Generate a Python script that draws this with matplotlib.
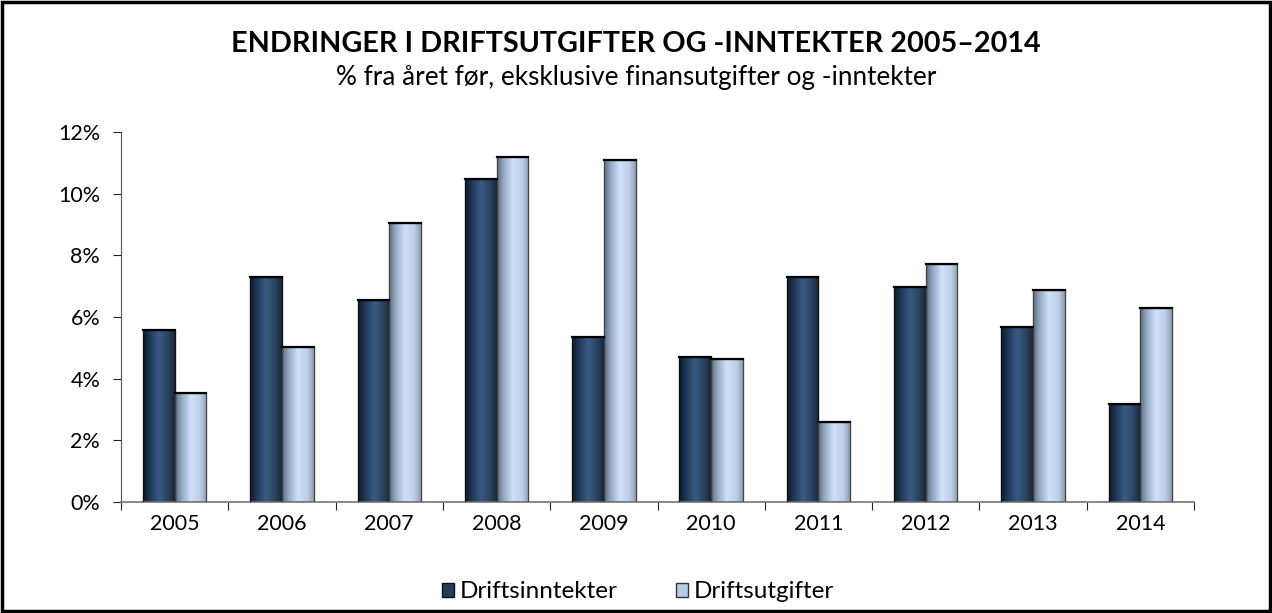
import numpy as np
import matplotlib
matplotlib.use("Agg")
import matplotlib.pyplot as plt
from matplotlib.colors import LinearSegmentedColormap
from matplotlib.patches import Rectangle

years = ["2005", "2006", "2007", "2008", "2009", "2010", "2011", "2012", "2013", "2014"]
inntekter = [5.58, 7.30, 6.55, 10.48, 5.35, 4.70, 7.30, 6.97, 5.68, 3.18]
utgifter = [3.54, 5.03, 9.05, 11.19, 11.09, 4.64, 2.59, 7.72, 6.88, 6.29]
series_names = ["Driftsinntekter", "Driftsutgifter"]
yticks = [0, 2, 4, 6, 8, 10, 12]
title = "ENDRINGER I DRIFTSUTGIFTER OG -INNTEKTER 2005\u20132014"
subtitle = "% fra året før, eksklusive finansutgifter og -inntekter"

plt.rcParams['font.family'] = ['Lato', 'DejaVu Sans']

W, H = 1272, 613
fig = plt.figure(figsize=(W / 100, H / 100), dpi=100)
ax = fig.add_axes([121 / W, (H - 502) / H, (1194 - 121) / W, (502 - 132) / H])

dark_cmap = LinearSegmentedColormap.from_list(
    "dark", [(0, "#0e1826"), (0.25, "#233c5d"), (0.5, "#3a5b84"), (0.8, "#29425f"), (1, "#172538")])
light_cmap = LinearSegmentedColormap.from_list(
    "light", [(0, "#5d6a7c"), (0.2, "#93a7c0"), (0.5, "#d0e2f8"), (0.8, "#bccde6"), (1, "#8c9db4")])

x = np.arange(len(years))
bw = 0.295
off = bw / 2
b1 = ax.bar(x - off, inntekter, width=bw, color="#1f3556", edgecolor="#111111", linewidth=0.8, label=series_names[0], zorder=2)
b2 = ax.bar(x + off, utgifter, width=bw, color="#b8cce4", edgecolor="#444444", linewidth=0.8, label=series_names[1], zorder=2)

grad = np.linspace(0, 1, 256).reshape(1, -1)
for bars, cmap in ((b1, dark_cmap), (b2, light_cmap)):
    for r in bars:
        x0, y0 = r.get_x(), r.get_y()
        w, h = r.get_width(), r.get_height()
        im = ax.imshow(grad, cmap=cmap, extent=(x0, x0 + w, y0, y0 + h),
                       aspect="auto", zorder=2.5, interpolation="bilinear")
        im.set_clip_path(r)
        ax.add_patch(Rectangle((x0, y0), w, h, fill=False, edgecolor=r.get_edgecolor(),
                               linewidth=0.9, zorder=3))
        ax.plot([x0, x0 + w], [y0 + h, y0 + h], color="black", linewidth=1.6, zorder=3.1)

ax.set_xlim(-0.5, len(years) - 0.5)
ax.set_ylim(0, 12)
ax.set_yticks(yticks)
ax.set_yticklabels([f"{v}%" for v in yticks], fontsize=15.5)
ax.set_xticks(np.arange(len(years) + 1) - 0.5)
ax.set_xticklabels([])
ax.set_xticks(x, minor=True)
ax.set_xticklabels(years, minor=True, fontsize=15.5)
ax.tick_params(axis="x", which="minor", length=0, pad=9)
ax.tick_params(axis="x", which="major", length=6, direction="out", color="#222222")
ax.tick_params(axis="y", length=6, direction="out", color="#222222", pad=9)
for s in ("top", "right"):
    ax.spines[s].set_visible(False)
ax.spines["left"].set_color("#555555")
ax.spines["bottom"].set_color("#777777")
ax.spines["bottom"].set_linewidth(1.2)

fig.text(0.5, (H - 44) / H, title, ha="center", va="center", fontsize=20.7, fontweight="bold")
fig.text(0.5, (H - 77) / H, subtitle, ha="center", va="center", fontsize=18.8)

leg = fig.legend(handles=[Rectangle((0, 0), 1, 1, facecolor="#243c5e", edgecolor="#111111"),
                          Rectangle((0, 0), 1, 1, facecolor="#b8cce4", edgecolor="#333333")],
                 labels=series_names, loc="center", bbox_to_anchor=(638 / W, (H - 592) / H),
                 ncol=2, frameon=False, fontsize=17.5, handlelength=0.5, handleheight=0.5,
                 handletextpad=0.25, columnspacing=2.4)

fig.add_artist(Rectangle((0.0015, 0.003), 0.997, 0.994, transform=fig.transFigure,
                         fill=False, edgecolor="black", linewidth=2.5))

fig.savefig("out.png", dpi=100)
